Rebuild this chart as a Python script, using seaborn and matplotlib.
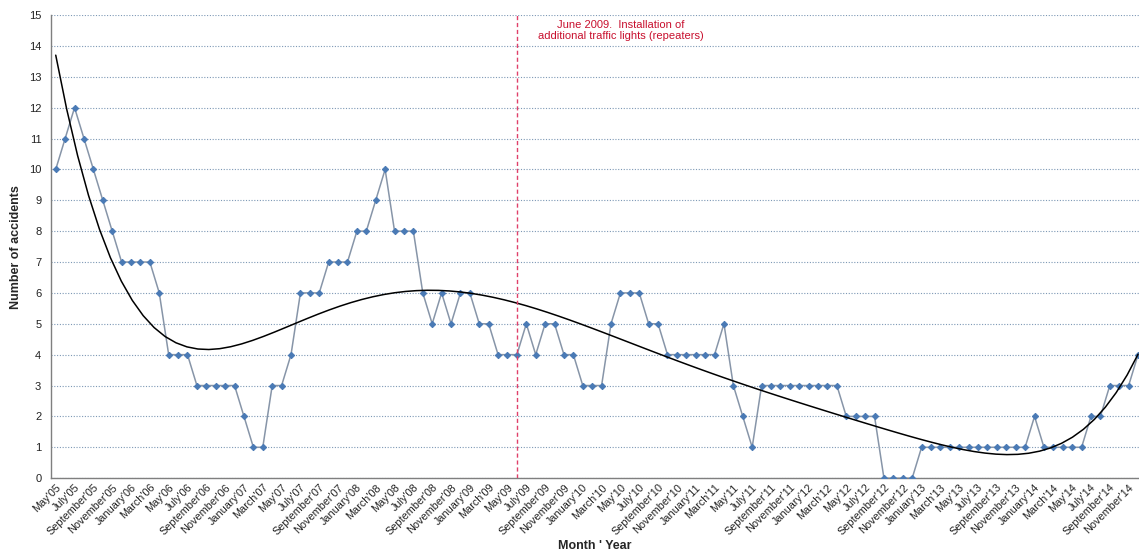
import numpy as np
import pandas as pd
import seaborn as sns
import matplotlib.pyplot as plt

# monthly accident counts, May 2005 .. December 2014
start_month = '2005-05'
n_months = 116
accidents = [10, 11, 12, 11, 10, 9, 8, 7, 7, 7, 7, 6, 4, 4, 4, 3, 3, 3, 3, 3,
             2, 1, 1, 3, 3, 4, 6, 6, 6, 7, 7,
             7, 8, 8, 9, 10, 8, 8, 8, 6, 5, 6, 5, 6, 6, 5, 5, 4, 4, 4, 5, 4,
             5, 5, 4, 4, 3, 3, 3, 5, 6, 6,
             6, 5, 5, 4, 4, 4, 4, 4, 4, 5, 3, 2, 1,
             3, 3, 3, 3, 3, 3, 3, 3, 3, 2, 2, 2, 2, 0, 0, 0, 0,
             1, 1, 1, 1, 1, 1, 1, 1, 1, 1, 1, 1, 2, 1, 1, 1, 1, 1,
             2, 2, 3, 3, 3, 4]
event_month = 49  # June 2009
event_text = 'June 2009.  Installation of\nadditional traffic lights (repeaters)'

dates = pd.date_range(start_month, periods=n_months, freq='MS')
labels = [d.strftime('%B') + "'" + d.strftime('%y') for d in dates]
df = pd.DataFrame({'idx': np.arange(n_months), 'Accidents': accidents})

sns.set_style('white')
plt.rcParams['font.family'] = ['Liberation Sans', 'DejaVu Sans']

fig = plt.figure(figsize=(11.39, 5.56), dpi=100)
ax = fig.add_axes([0.0448, 0.140, 0.9552, 0.833])

# horizontal dotted grid
for v in range(0, 16):
    ax.axhline(v, color='#7d98b5', lw=0.8, ls=(0, (1, 1.5)), zorder=0)

sns.lineplot(data=df, x='idx', y='Accidents', ax=ax, color='#8795a8', lw=1.1,
             marker='D', markersize=3.2, markerfacecolor='#4a7ab5',
             markeredgecolor='#4a7ab5', zorder=3)

# polynomial trend line (like the Excel trendline)
sns.regplot(data=df, x='idx', y='Accidents', ax=ax, order=6, ci=None,
            scatter=False, line_kws={'color': 'black', 'lw': 1.1, 'zorder': 4})

ax.axvline(event_month, color='#e0406a', lw=1, ls=(0, (3, 2)), zorder=5)
ax.text(60, 14.5, event_text, ha='center', va='center', color='#c8102e',
        fontsize=8)

ax.set_xlim(-0.5, 115.1)
ax.set_ylim(0, 15)
ax.set_yticks(range(0, 16))
ax.set_xticks(range(0, n_months, 2))
ax.set_xticklabels(labels[::2], rotation=45, ha='right', rotation_mode='anchor',
                   fontsize=7.8, color='#222222')
ax.tick_params(axis='y', labelsize=8, colors='#222222', length=3, pad=4)
ax.tick_params(axis='x', length=0, pad=3)

for side in ['top', 'right']:
    ax.spines[side].set_visible(False)
for side in ['left', 'bottom']:
    ax.spines[side].set_color('#7f7f7f')
    ax.spines[side].set_linewidth(1)

ax.set_xlabel("Month ' Year", fontsize=9, fontweight='bold', labelpad=2)
ax.set_ylabel('Number of accidents', fontsize=9, fontweight='bold', labelpad=5)

plt.savefig('out.png', dpi=100)
